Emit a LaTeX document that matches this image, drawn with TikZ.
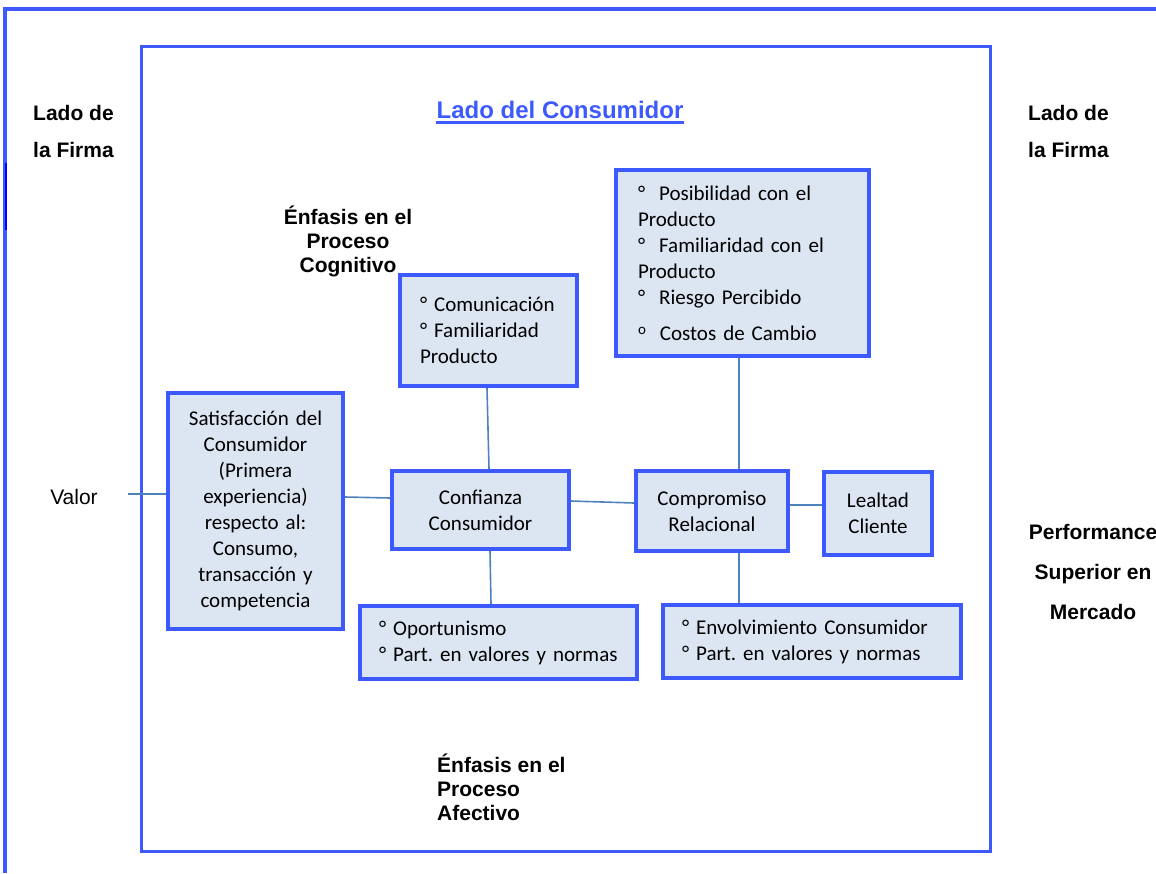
\documentclass[tikz,border=0pt]{standalone}
\usepackage{fontspec}
\setmainfont{Carlito}
\newfontfamily\arialfont{Liberation Sans}
\frenchspacing
\hyphenpenalty=10000
\begin{document}
\begin{tikzpicture}[x=1pt,y=-1pt,
  box/.style={draw=frameblue, fill=boxfill, line width=4pt, inner ysep=0pt, font=\fontsize{21}{26}\selectfont},
  centerbox/.style={box, inner xsep=4pt, align=center},
  listbox/.style={box, align=left},
  link/.style={draw=linkblue, line width=1.6pt},
  sidelabel/.style={inner sep=0pt, font=\arialfont\bfseries\fontsize{21}{24}\selectfont}]
\definecolor{frameblue}{RGB}{61,90,254}
\definecolor{boxfill}{RGB}{220,230,242}
\definecolor{linkblue}{RGB}{79,129,189}
\useasboundingbox (0,0) rectangle (1156,873);
\draw[frameblue, line width=3.5pt] (5,873) -- (5,9) -- (1160,9);
\draw[blue, line width=2pt] (5.7,163) -- (5.7,230);
\draw[frameblue, line width=3pt] (141,46) rectangle (990,851);
\node[sidelabel, align=left, anchor=west, font=\arialfont\bfseries\fontsize{21}{37}\selectfont] (firmaL) at (33,131.5) {Lado de\\la Firma};
\node[sidelabel, align=left, anchor=west, font=\arialfont\bfseries\fontsize{21}{37}\selectfont] (firmaR) at (1028,131.5) {Lado de\\la Firma};
\node[sidelabel, anchor=base, text=frameblue, font=\arialfont\bfseries\fontsize{24}{28}\selectfont] (consumidor) at (560,118) {Lado del Consumidor};
\draw[frameblue, line width=2.5pt] ([yshift=-4.5pt]consumidor.base west) -- ([yshift=-4.5pt]consumidor.base east);
\node[sidelabel, align=center] (cognitivo) at (348,241) {Énfasis en el\\Proceso\\Cognitivo};
\node[sidelabel, align=left, anchor=west] (afectivo) at (437,787) {Énfasis en el\\Proceso\\Afectivo};
\node[sidelabel, align=center, font=\arialfont\bfseries\fontsize{21}{40}\selectfont] (performance) at (1093,572) {Performance\\Superior en\\Mercado};
\node[inner sep=0pt, font=\arialfont\fontsize{21}{24}\selectfont] (valor) at (74,497) {Valor};
\node[listbox, inner xsep=22pt, text width=209pt, minimum height=186pt] (posibilidad) at (742.5,263)
  {°~\ Posibilidad con el\\Producto\\°~\ Familiaridad con el\\Producto\\°~\ Riesgo Percibido\\[10pt]\raisebox{6pt}{\fontsize{15}{15}\selectfont o}~\ Costos de Cambio};
\node[listbox, inner xsep=20pt, text width=137pt, minimum height=111pt] (comunicacion) at (488.5,330.5)
  {°~Comunicación\\°~Familiaridad\\Producto};
\node[centerbox, text width=167pt, minimum height=236pt] (satisfaccion) at (255.5,511)
  {Satisfacción del\\Consumidor\\(Primera\\experiencia)\\respecto al:\\Consumo,\\transacción y\\competencia};
\node[centerbox, text width=169pt, minimum height=78pt] (confianza) at (480.5,510) {Confianza\\Consumidor};
\node[centerbox, text width=144pt, minimum height=80pt] (compromiso) at (712,511) {Compromiso\\Relacional};
\node[centerbox, text width=100pt, minimum height=83pt] (lealtad) at (878,513.5) {Lealtad\\Cliente};
\node[listbox, inner xsep=19pt, text width=239pt, minimum height=73pt] (oportunismo) at (498.5,642.5)
  {°~Oportunismo\\°~Part. en valores y normas};
\node[listbox, inner xsep=19pt, text width=260pt, minimum height=73pt] (envolvimiento) at (812,641.5)
  {°~Envolvimiento Consumidor\\°~Part. en valores y normas};
\coordinate (valorpt) at (128,494);
\draw[link] (valorpt) -- (valorpt -| satisfaccion.west);
\draw[link] ([yshift=14pt]satisfaccion.east) -- ([yshift=12pt]confianza.west);
\draw[link] ([yshift=9pt]confianza.east) -- ([yshift=8pt]compromiso.west);
\draw[link] ([yshift=6pt]compromiso.east) -- ([yshift=8.5pt]lealtad.west);
\draw[link] ([xshift=-1.5pt]comunicacion.south) -- ([xshift=8.5pt]confianza.north);
\draw[link] ([xshift=9.5pt]confianza.south) -- ([xshift=-7.5pt]oportunismo.north);
\draw[link] ([xshift=-3.5pt]posibilidad.south) -- ([xshift=27pt]compromiso.north);
\draw[link] ([xshift=27pt]compromiso.south) -- ([xshift=-73pt]envolvimiento.north);
\end{tikzpicture}
\end{document}
